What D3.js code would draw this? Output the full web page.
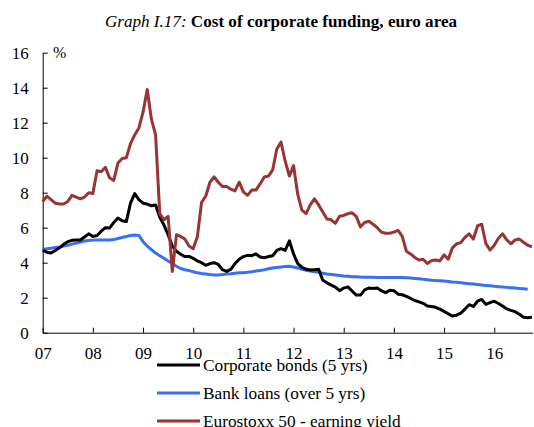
<!DOCTYPE html>
<html>
<head>
<meta charset="utf-8">
<script src="https://cdn.jsdelivr.net/npm/d3@7"></script>
<style>
  body { margin: 0; background: #fff; }
</style>
</head>
<body>
<div id="chart"></div>
<script>
// Monthly data, Jan 2007 onwards (month index 0 = Jan 07)
let yearLabels = ["07", "08", "09", "10", "11", "12", "13", "14", "15", "16"];

let corporateBonds = [
  4.72, 4.6, 4.55, 4.7, 4.85, 5.05, 5.2, 5.28, 5.3, 5.3, 5.47, 5.65,
  5.5, 5.55, 5.8, 6.0, 5.98, 6.3, 6.55, 6.4, 6.35, 7.4, 7.95, 7.6,
  7.4, 7.35, 7.25, 7.3, 6.6, 6.15, 5.6, 4.95, 4.65, 4.48, 4.35, 4.36,
  4.25, 4.1, 4.0, 3.85, 3.95, 4.0, 3.9, 3.6, 3.5, 3.62, 3.95, 4.2,
  4.35, 4.42, 4.4, 4.5, 4.33, 4.28, 4.35, 4.4, 4.7, 4.8, 4.7, 5.25,
  4.5, 3.95, 3.74, 3.62, 3.58, 3.6, 3.62, 3.0, 2.85, 2.72, 2.6, 2.4,
  2.55, 2.62, 2.38, 2.15, 2.15, 2.45, 2.55, 2.52, 2.55, 2.4, 2.29, 2.42,
  2.4, 2.2, 2.17, 2.08, 1.96, 1.84, 1.76, 1.68, 1.53, 1.5, 1.45, 1.35,
  1.22, 1.08, 0.95, 1.0, 1.12, 1.35, 1.6, 1.5, 1.8, 1.9, 1.62, 1.72,
  1.8, 1.67, 1.52, 1.36, 1.28, 1.2, 1.05, 0.88, 0.86, 0.88
];

let bankLoans = [
  4.78, 4.8, 4.83, 4.87, 4.9, 4.95, 5.0, 5.06, 5.12, 5.18, 5.24, 5.27,
  5.29, 5.3, 5.3, 5.3, 5.3, 5.32, 5.38, 5.44, 5.5, 5.55, 5.58, 5.56,
  5.2, 4.95, 4.75, 4.55, 4.4, 4.25, 4.1, 3.95, 3.8, 3.67, 3.6, 3.55,
  3.48, 3.42, 3.38, 3.35, 3.32, 3.3, 3.3, 3.32, 3.35, 3.37, 3.4, 3.42,
  3.43, 3.45, 3.48, 3.52, 3.56, 3.6, 3.65, 3.7, 3.73, 3.76, 3.78, 3.8,
  3.75, 3.7, 3.62, 3.57, 3.52, 3.48, 3.45, 3.4, 3.36, 3.33, 3.3, 3.27,
  3.24, 3.22, 3.2, 3.2, 3.18, 3.17, 3.17, 3.17, 3.16, 3.16, 3.15, 3.15,
  3.15, 3.15, 3.15, 3.14, 3.12, 3.1, 3.08, 3.05, 3.03, 3.0, 2.98, 2.97,
  2.95, 2.93, 2.9, 2.88, 2.85, 2.82, 2.8, 2.78, 2.75, 2.72, 2.7, 2.68,
  2.65, 2.63, 2.61, 2.59, 2.57, 2.55, 2.53, 2.51, 2.48
];

let earningYield = [
  7.5, 7.8, 7.6, 7.4, 7.35, 7.35, 7.5, 7.85, 7.75, 7.65, 7.75, 8.0,
  7.95, 9.25, 9.2, 9.45, 8.85, 8.7, 9.7, 9.95, 10.0, 10.8, 11.3, 11.7,
  12.6, 13.9, 12.2, 11.3, 6.8, 6.45, 6.65, 3.5, 5.6, 5.5, 5.35, 4.95,
  4.8, 5.5, 7.45, 7.8, 8.6, 8.9, 8.6, 8.35, 8.35, 8.2, 8.1, 8.6,
  8.05, 7.85, 8.15, 8.15, 8.5, 8.9, 8.95, 9.3, 10.5, 10.9, 9.8, 8.95,
  9.55, 7.9, 7.0, 6.8, 7.3, 7.65, 7.3, 6.9, 6.5, 6.45, 6.25, 6.65,
  6.7, 6.8, 6.85, 6.65, 6.05, 6.3, 6.37, 6.2, 6.0, 5.75, 5.68, 5.68,
  5.75, 5.85, 5.5, 4.65, 4.5, 4.3, 4.15, 4.2, 3.95, 4.12, 4.15, 4.1,
  4.45, 4.2, 4.85, 5.08, 5.15, 5.45, 5.65, 5.35, 6.1, 6.2, 5.1, 4.72,
  5.0, 5.4, 5.65, 5.3, 5.08, 5.3, 5.35, 5.17, 5.0, 4.9
];

let seriesNames = ["Corporate bonds (5 yrs)", "Bank loans (over 5 yrs)", "Eurostoxx 50 - earning yield"];
let seriesColors = ["#000000", "#3a6ef5", "#983434"];
let yTicks = [0, 2, 4, 6, 8, 10, 12, 14, 16];

////////////////////////////////////////////////////////////////////////

let width = 534;
let height = 427;
let serif = "'Liberation Serif', 'Times New Roman', serif";

let svg = d3.select("#chart")
  .append("svg")
  .attr("width", width).attr("height", height)
  .attr("font-family", serif);

// x is month index since Jan 2007
let xScale = d3.scaleLinear()
  .domain([0, 117.2])
  .range([42.7, 532.7]);

let yScale = d3.scaleLinear()
  .domain([0, 16])
  .range([332.7, 52.7]);

// title
let title = svg.append("text")
  .attr("x", 281)
  .attr("y", 27)
  .attr("text-anchor", "middle")
  .attr("font-family", serif)
  .attr("font-size", 17.1);
title.append("tspan").attr("font-style", "italic").text("Graph I.17: ");
title.append("tspan").attr("font-weight", "bold").text("Cost of corporate funding, euro area");

// axes
let yAxis = d3.axisLeft(yScale)
  .tickValues(yTicks)
  .tickSizeInner(-5)
  .tickSizeOuter(0)
  .tickPadding(14);

let xAxis = d3.axisBottom(xScale)
  .tickValues(yearLabels.map((d, i) => i * 12))
  .tickFormat((d, i) => yearLabels[i])
  .tickSizeInner(-5)
  .tickSizeOuter(0)
  .tickPadding(14);

svg.append("g")
  .attr("class", "axis")
  .attr("transform", "translate(" + xScale(0) + ",0)")
  .call(yAxis);

svg.append("g")
  .attr("class", "axis")
  .attr("transform", "translate(0," + yScale(0) + ")")
  .call(xAxis);

svg.selectAll(".axis")
  .attr("font-family", serif)
  .attr("font-size", 17);
svg.selectAll(".axis text").attr("fill", "#000");
svg.selectAll(".axis path, .axis line").attr("stroke", "#000");

svg.append("text")
  .attr("x", 53)
  .attr("y", 58)
  .attr("font-family", serif)
  .attr("font-size", 16)
  .text("%");

// lines
let line = d3.line()
  .x((d, i) => xScale(i))
  .y((d) => yScale(d));

let allSeries = [corporateBonds, bankLoans, earningYield];

// draw in back-to-front order: blue, black, red
[1, 0, 2].forEach(function(k) {
  svg.append("path")
    .datum(allSeries[k])
    .attr("fill", "none")
    .attr("stroke", seriesColors[k])
    .attr("stroke-width", 3)
    .attr("stroke-linejoin", "round")
    .attr("d", line);
});

// legend
let legend = svg.append("g")
  .selectAll("g")
  .data(seriesNames)
  .enter()
  .append("g")
  .attr("transform", (d, i) => "translate(157," + (365 + i * 28) + ")");

legend.append("line")
  .attr("x1", 0).attr("x2", 43)
  .attr("stroke", (d, i) => seriesColors[i])
  .attr("stroke-width", 3);

legend.append("text")
  .attr("x", 46)
  .attr("y", 6)
  .attr("font-family", serif)
  .attr("font-size", 17.3)
  .text((d) => d);
</script>
</body>
</html>
